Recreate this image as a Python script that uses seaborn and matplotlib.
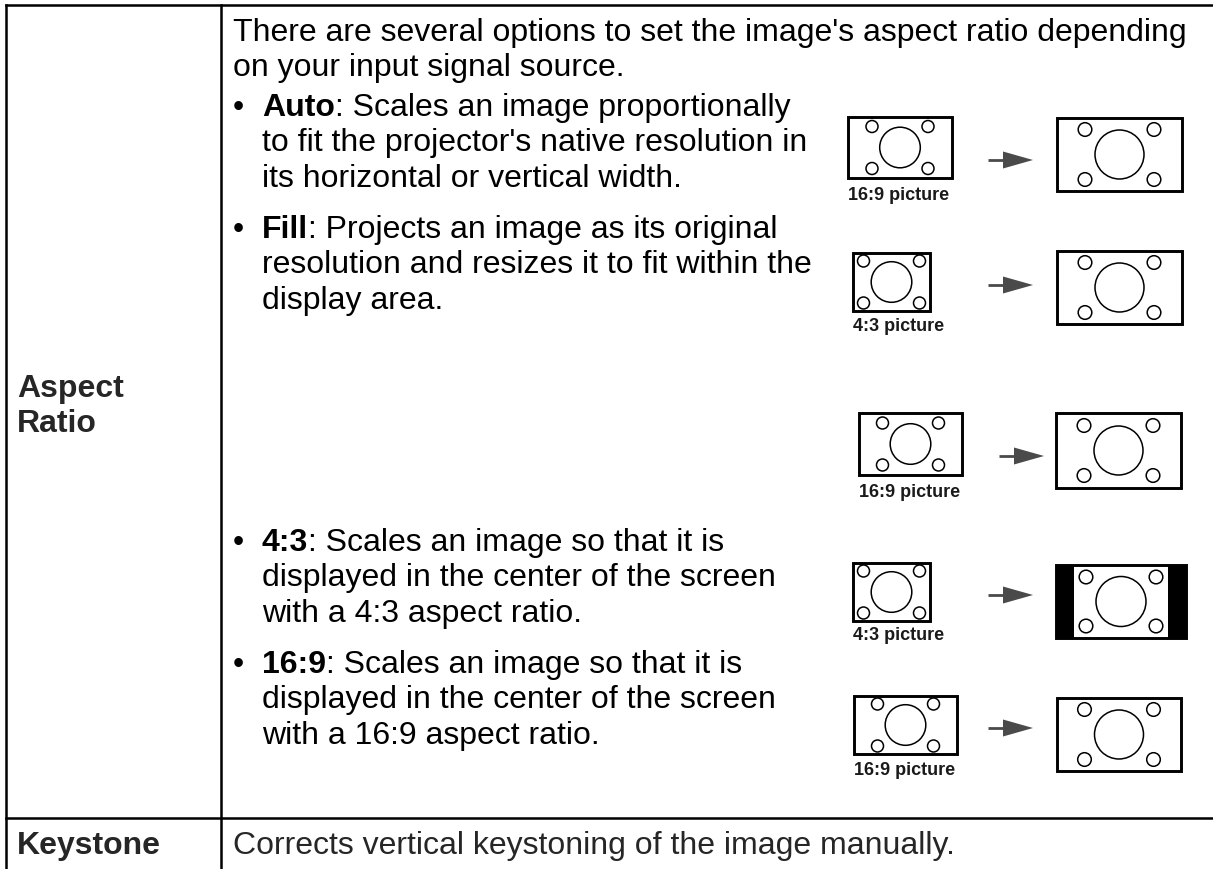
import matplotlib
matplotlib.use("Agg")
import matplotlib.pyplot as plt
from matplotlib.patches import Rectangle, Circle, Polygon
import seaborn as sns

# ---------------- content ----------------
row_headings = ["Aspect", "Ratio"]
keystone_heading = "Keystone"
keystone_text = "Corrects vertical keystoning of the image manually."
intro_lines = ["There are several options to set the image's aspect ratio depending",
               "on your input signal source."]
bullet_terms = ["Auto", "Fill", "4:3", "16:9"]
bullet_first = [": Scales an image proportionally",
                ": Projects an image as its original",
                ": Scales an image so that it is",
                ": Scales an image so that it is"]
bullet_rest = [["to fit the projector's native resolution in", "its horizontal or vertical width."],
               ["resolution and resizes it to fit within the", "display area."],
               ["displayed in the center of the screen", "with a 4:3 aspect ratio."],
               ["displayed in the center of the screen", "with a 16:9 aspect ratio."]]
source_labels = ["16:9 picture", "4:3 picture", "16:9 picture", "4:3 picture", "16:9 picture"]
target_modes = ["full", "full", "full", "pillarbox", "full"]

# ---------------- layout ----------------
W, H = 1213, 870
sns.set_theme(style="white")
plt.rcParams['font.family'] = ['Liberation Sans', 'DejaVu Sans']

fig = plt.figure(figsize=(W / 100, H / 100), dpi=100)
ax = fig.add_axes([0, 0, 1, 1])
ax.set_xlim(0, W)
ax.set_ylim(H, 0)
ax.axis('off')
renderer = fig.canvas.get_renderer()

FS = 23
LW_T = 1.8
line_kw = dict(color='black', lw=LW_T, solid_capstyle='projecting')
ax.plot([6, W], [6, 6], **line_kw)
ax.plot([6, W], [819, 819], **line_kw)
ax.plot([6, 6], [6, H], **line_kw)
ax.plot([221, 221], [6, H], **line_kw)


def rich(x, y, parts):
    for txt, bold in parts:
        t = ax.text(x, y, txt, fontsize=FS, fontweight='bold' if bold else 'normal',
                    va='baseline', ha='left', color='black')
        x += t.get_window_extent(renderer).width


X_TEXT = 233
X_IND = 262
ax.text(X_TEXT, 41, intro_lines[0], fontsize=FS, va='baseline', color='black')
ax.text(X_TEXT, 76, intro_lines[1], fontsize=FS, va='baseline', color='black')

bullet_base = [116, 238, 551, 673]
LS = 35.5
for term, first, rest, yb in zip(bullet_terms, bullet_first, bullet_rest, bullet_base):
    ax.text(X_TEXT, yb, "\u2022", fontsize=FS, va='baseline', color='black')
    rich(X_IND, yb, [(term, True), (first, False)])
    for i, ln in enumerate(rest):
        ax.text(X_IND, yb + LS * (i + 1), ln, fontsize=FS, va='baseline', color='black')

ax.text(17, 397, row_headings[0], fontsize=FS, fontweight='bold', va='baseline')
ax.text(17, 432, row_headings[1], fontsize=FS, fontweight='bold', va='baseline')
ax.text(17, 854, keystone_heading, fontsize=FS, fontweight='bold', va='baseline')
ax.text(X_TEXT, 854, keystone_text, fontsize=FS, va='baseline')

# ---------------- diagrams ----------------
src_boxes = [(848, 118, 104, 61), (853, 254, 77, 58), (859, 414, 103, 62),
             (853, 564, 77, 58), (854, 697, 103, 58)]
tgt_boxes = [(1057, 119, 125, 73), (1057, 252, 125, 73), (1056, 414, 125, 75),
             (1056, 566, 130, 73), (1057, 699, 124, 73)]
arrow_pos = [(988, 161), (988, 286), (999, 457), (988, 596), (988, 729)]
label_base = [200, 331, 497, 640, 775]


def screen(x0, y0, w, h, rb, rs, dx, dy, pillar=0):
    if pillar:
        ax.add_patch(Rectangle((x0, y0), pillar, h, fc='black', ec='none'))
        ax.add_patch(Rectangle((x0 + w - pillar, y0), pillar, h, fc='black', ec='none'))
    ax.add_patch(Rectangle((x0, y0), w, h, fill=False, ec='black', lw=2.1))
    cx, cy = x0 + w / 2, y0 + h / 2
    ax.add_patch(Circle((cx, cy), rb, fill=False, ec='black', lw=1.1))
    for sx in (-1, 1):
        for sy in (-1, 1):
            ax.add_patch(Circle((cx + sx * dx, cy + sy * dy), rs, fill=False, ec='black', lw=1.1))


for sb, tb, ap, lb, lab, mode in zip(src_boxes, tgt_boxes, arrow_pos, label_base,
                                     source_labels, target_modes):
    screen(*sb, 20.3, 6, 28, 21)
    ax.text(sb[0], lb, lab, fontsize=13, fontweight='bold', va='baseline', color='#1a1a1a')
    if mode == 'pillarbox':
        screen(*tb, 25, 6.8, 35, 24.5, pillar=18)
    else:
        screen(*tb, 24.5, 6.8, 34.5, 25)
    xa, ya = ap
    ax.plot([xa, xa + 16], [ya, ya], color='#4a4a4a', lw=2.0, solid_capstyle='butt')
    ax.add_patch(Polygon([(xa + 15, ya - 8.5), (xa + 45, ya), (xa + 15, ya + 8.5)],
                         closed=True, fc='#4a4a4a', ec='none'))

fig.savefig("out.png", dpi=100, facecolor='white')
